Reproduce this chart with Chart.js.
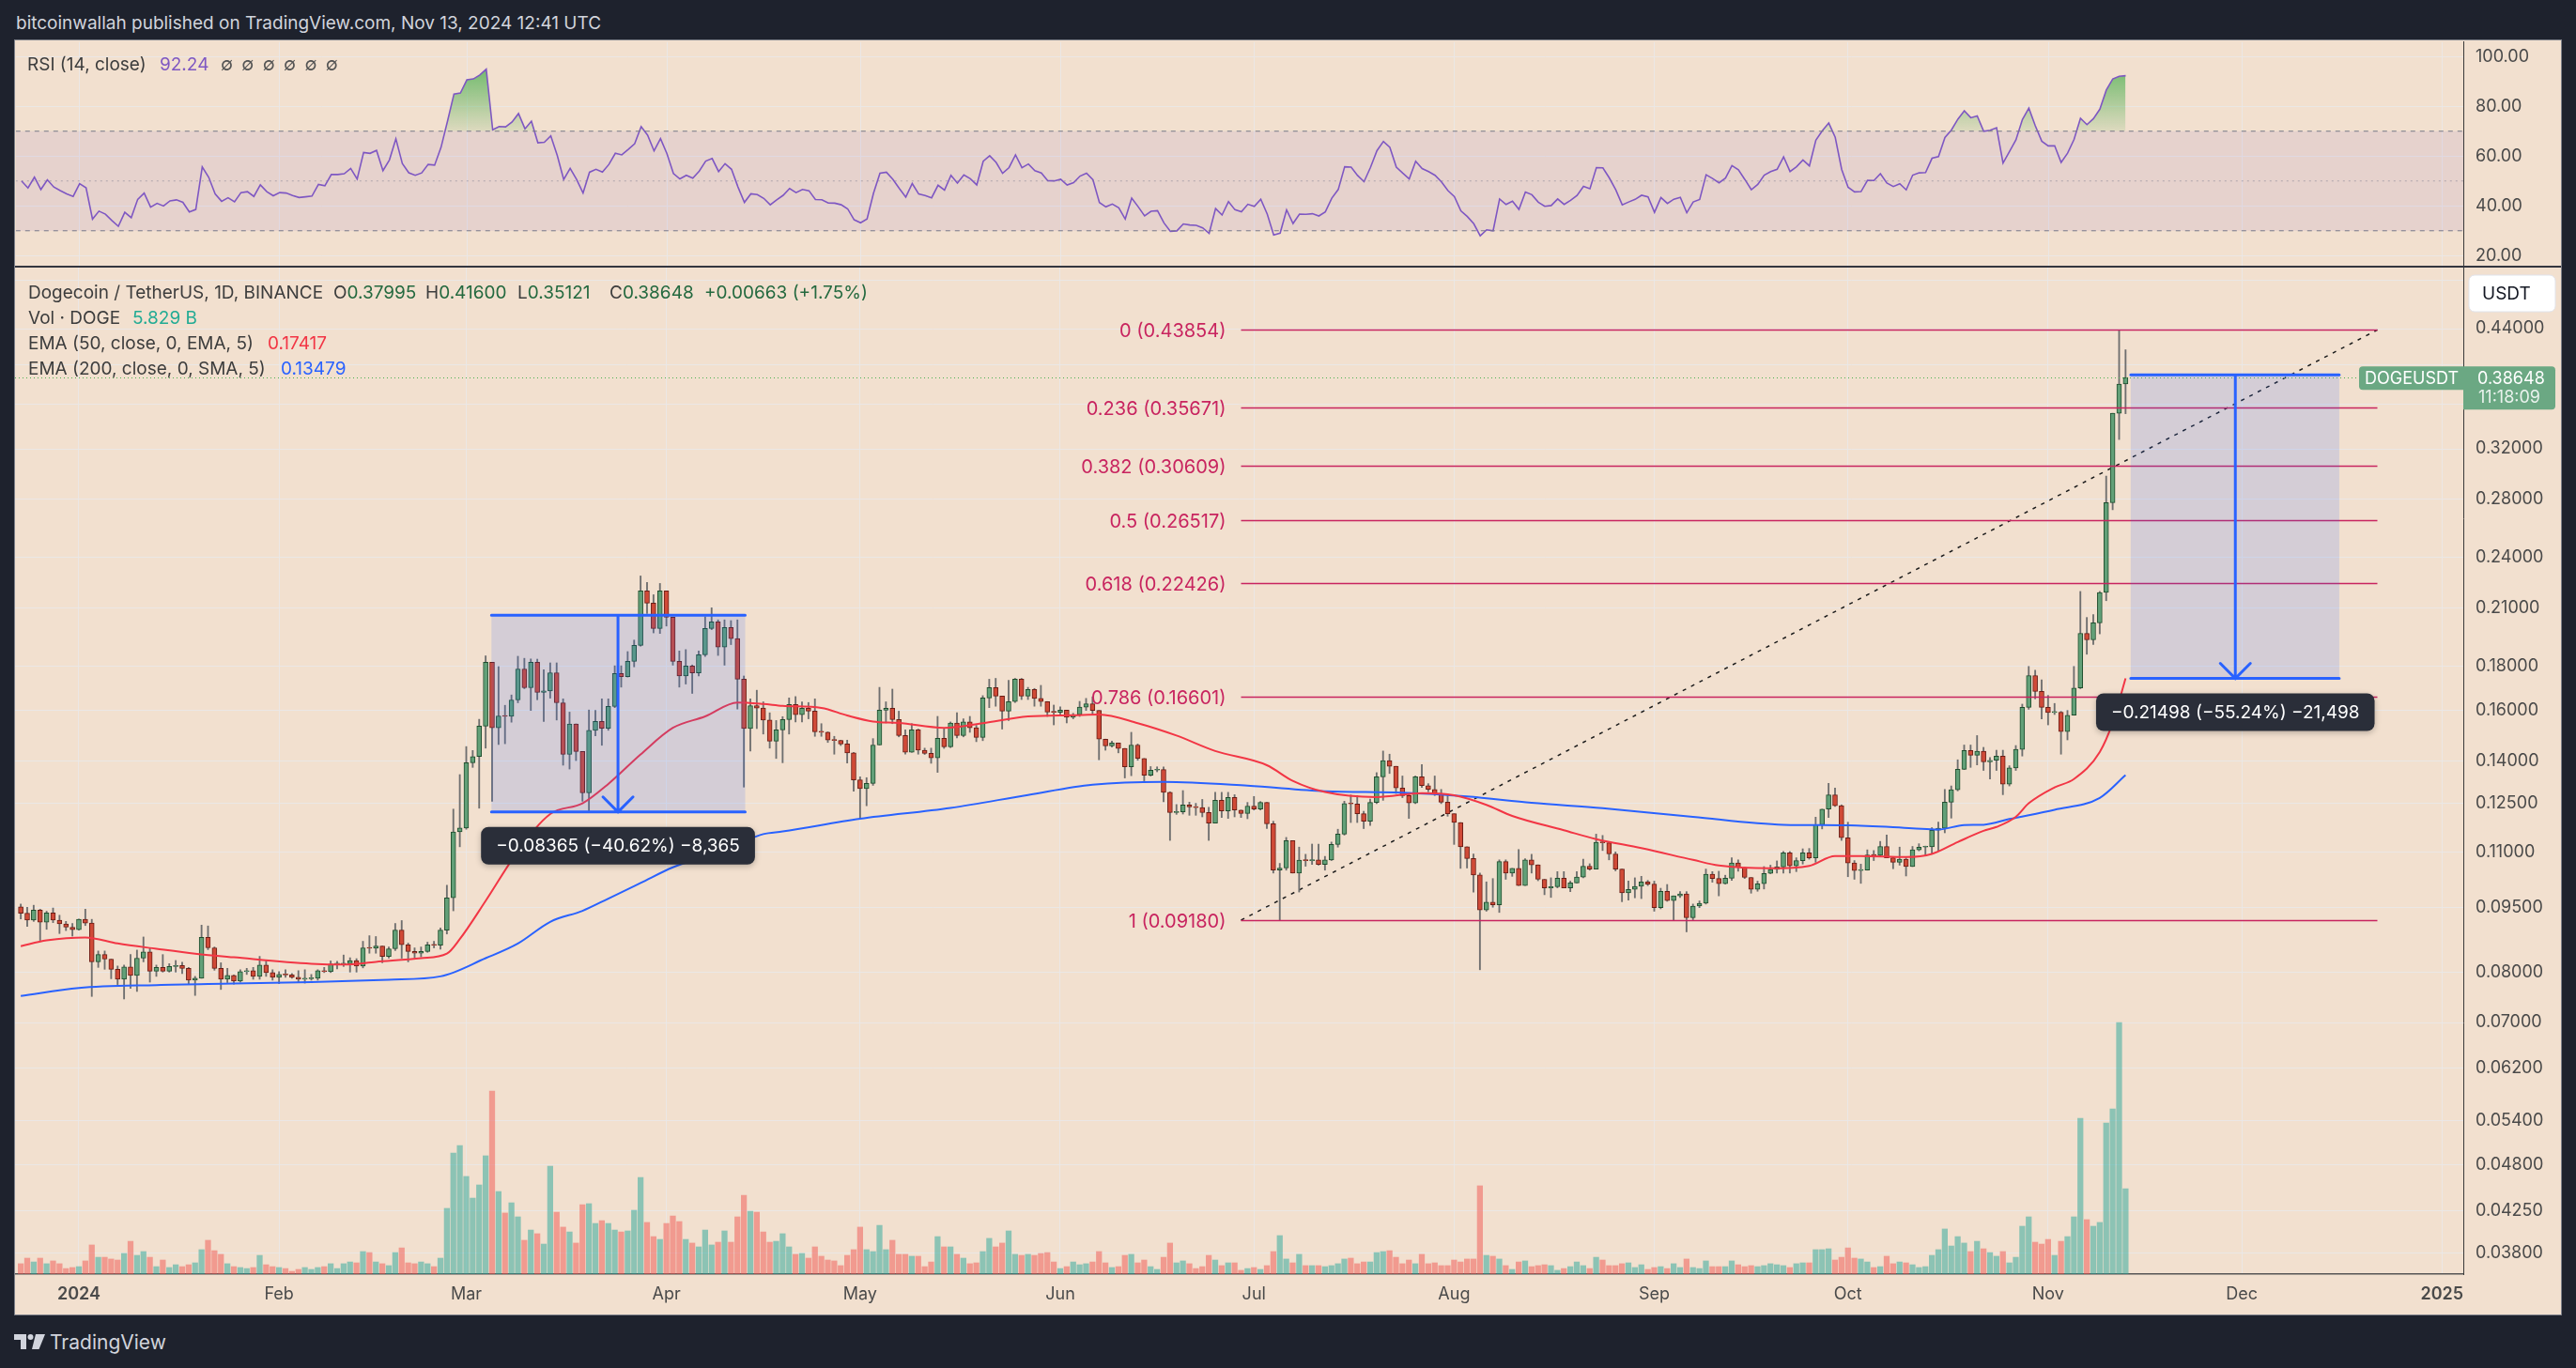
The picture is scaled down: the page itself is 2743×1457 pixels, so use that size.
<!DOCTYPE html>
<html>
<head>
<meta charset="utf-8">
<title>DOGEUSDT 1D</title>
<script src="https://cdn.jsdelivr.net/npm/chart.js@4.4.1/dist/chart.umd.min.js"></script>
<style>
  html, body { margin: 0; padding: 0; }
  body { width: 2743px; height: 1457px; background: #1e222d; position: relative; overflow: hidden; font-family: Inter, Roboto, sans-serif; }
  #frame { position: absolute; left: 16px; top: 43px; width: 2711px; height: 1357px; background: #f2e0cf; box-shadow: 0 0 0 1px #7d8089; }
  canvas { position: absolute; left: 16px; }
  #rsi { top: 44px; }
  #main { top: 284px; }
  #sep { position: absolute; left: 16px; top: 283px; width: 2711px; height: 2px; background: #34363f; }
  .t { position: absolute; line-height: 22px; white-space: nowrap; font-size: 19px; color: #3d3d3d; }
  .g { color: #24693f; }
  #head { color: #d1d4dc; font-size: 19px; }
  #brand { color: #d1d4dc; font-size: 21px; line-height: 24px; }
</style>
</head>
<body>
<div id="frame"></div>
<canvas id="rsi" width="2711" height="240"></canvas>
<canvas id="main" width="2711" height="1116"></canvas>
<div id="sep"></div>

<div class="t" id="head" style="left:17px;top:14px">bitcoinwallah published on TradingView.com, Nov 13, 2024 12:41 UTC</div>

<div class="t" style="left:29px;top:58px">RSI (14, close)</div>
<div class="t" style="left:170px;top:58px;color:#7e57c2">92.24</div>
<div class="t" style="left:235px;top:58px;color:#555;word-spacing:4px">∅ ∅ ∅ ∅ ∅ ∅</div>

<div class="t" style="left:30px;top:301px">Dogecoin / TetherUS, 1D, BINANCE</div>
<div class="t" style="left:355px;top:301px">O<span class="g">0.37995</span></div>
<div class="t" style="left:453px;top:301px">H<span class="g">0.41600</span></div>
<div class="t" style="left:551px;top:301px">L<span class="g">0.35121</span></div>
<div class="t" style="left:649px;top:301px">C<span class="g">0.38648</span></div>
<div class="t g" style="left:750px;top:301px">+0.00663 (+1.75%)</div>
<div class="t" style="left:30px;top:328px">Vol · DOGE</div>
<div class="t" style="left:141px;top:328px;color:#22ab94">5.829 B</div>
<div class="t" style="left:30px;top:355px">EMA (50, close, 0, EMA, 5)</div>
<div class="t" style="left:285px;top:355px;color:#f23645">0.17417</div>
<div class="t" style="left:30px;top:382px">EMA (200, close, 0, SMA, 5)</div>
<div class="t" style="left:299px;top:382px;color:#2962ff">0.13479</div>

<svg style="position:absolute;left:15px;top:1421px" width="34" height="16" viewBox="0 0 34 16">
  <path d="M0 0h13v16H7V6H0z" fill="#d1d4dc"/>
  <circle cx="17.5" cy="3" r="3" fill="#d1d4dc"/>
  <path d="M23 0h10l-6.5 16h-7.5z" fill="#d1d4dc"/>
</svg>
<div class="t" id="brand" style="left:53px;top:1418px">TradingView</div>

<script>
// ---- data (day index: 0 = 1 Jan 2024) ----
const firstDay = -9;
const firstOpen = 0.0951;

const closes = [
  0.0935, 0.0918, 0.0943, 0.0913, 0.0936, 0.0918, 0.0909, 0.0901, 0.0895, 0.0920,
  0.0911, 0.0822, 0.0838, 0.0828, 0.0806, 0.0785, 0.0811, 0.0793, 0.0830, 0.0844,
  0.0802, 0.0810, 0.0802, 0.0812, 0.0814, 0.0808, 0.0783, 0.0787, 0.0877, 0.0853,
  0.0808, 0.0785, 0.0793, 0.0781, 0.0801, 0.0803, 0.0791, 0.0815, 0.0799, 0.0789,
  0.0795, 0.0794, 0.0789, 0.0785, 0.0786, 0.0787, 0.0803, 0.0801, 0.0817, 0.0817,
  0.0818, 0.0825, 0.0813, 0.0853, 0.0852, 0.0857, 0.0834, 0.0851, 0.0894, 0.0860,
  0.0845, 0.0841, 0.0845, 0.0860, 0.0859, 0.0894, 0.0974, 0.1160, 0.1172, 0.1393,
  0.1416, 0.1535, 0.1818, 0.1528, 0.1577, 0.1575, 0.1645, 0.1786, 0.1699, 0.1818,
  0.1678, 0.1685, 0.1768, 0.1633, 0.1424, 0.1544, 0.1435, 0.1286, 0.1518, 0.1554,
  0.1526, 0.1617, 0.1764, 0.1750, 0.1822, 0.1901, 0.2196, 0.2126, 0.1988, 0.2196,
  0.2048, 0.1822, 0.1753, 0.1800, 0.1767, 0.1854, 0.1988, 0.2023, 0.1892, 0.1993,
  0.1936, 0.1738, 0.1525, 0.1620, 0.1610, 0.1560, 0.1475, 0.1520, 0.1562, 0.1625,
  0.1582, 0.1609, 0.1597, 0.1512, 0.1510, 0.1479, 0.1478, 0.1464, 0.1430, 0.1331,
  0.1301, 0.1319, 0.1460, 0.1601, 0.1609, 0.1562, 0.1497, 0.1432, 0.1520, 0.1440,
  0.1428, 0.1411, 0.1486, 0.1453, 0.1548, 0.1497, 0.1552, 0.1528, 0.1490, 0.1654,
  0.1700, 0.1662, 0.1597, 0.1638, 0.1738, 0.1662, 0.1691, 0.1652, 0.1638, 0.1593,
  0.1592, 0.1601, 0.1571, 0.1582, 0.1614, 0.1628, 0.1600, 0.1483, 0.1457, 0.1468,
  0.1447, 0.1378, 0.1460, 0.1409, 0.1348, 0.1366, 0.1368, 0.1288, 0.1221, 0.1223,
  0.1246, 0.1239, 0.1237, 0.1221, 0.1187, 0.1261, 0.1226, 0.1271, 0.1229, 0.1218,
  0.1242, 0.1232, 0.1254, 0.1185, 0.1048, 0.1054, 0.1133, 0.1040, 0.1076, 0.1075,
  0.1077, 0.1064, 0.1077, 0.1122, 0.1153, 0.1250, 0.1249, 0.1217, 0.1193, 0.1254,
  0.1342, 0.1401, 0.1380, 0.1303, 0.1277, 0.1252, 0.1342, 0.1311, 0.1298, 0.1283,
  0.1255, 0.1217, 0.1189, 0.1115, 0.1081, 0.1035, 0.0943, 0.0963, 0.0956, 0.1072,
  0.1040, 0.1053, 0.1006, 0.1077, 0.1063, 0.1023, 0.1000, 0.1003, 0.1026, 0.1000,
  0.1013, 0.1029, 0.1059, 0.1051, 0.1128, 0.1127, 0.1094, 0.1051, 0.0987, 0.0996,
  0.1004, 0.1016, 0.1010, 0.0949, 0.0991, 0.0967, 0.0979, 0.0984, 0.0924, 0.0953,
  0.0960, 0.1037, 0.1025, 0.1011, 0.1026, 0.1068, 0.1056, 0.1028, 0.0996, 0.1011,
  0.1039, 0.1050, 0.1057, 0.1097, 0.1060, 0.1075, 0.1097, 0.1083, 0.1182, 0.1232,
  0.1279, 0.1243, 0.1142, 0.1068, 0.1047, 0.1048, 0.1091, 0.1090, 0.1116, 0.1083,
  0.1070, 0.1079, 0.1058, 0.1106, 0.1114, 0.1115, 0.1165, 0.1171, 0.1255, 0.1297,
  0.1369, 0.1439, 0.1421, 0.1436, 0.1396, 0.1402, 0.1418, 0.1316, 0.1374, 0.1443,
  0.1613, 0.1755, 0.1683, 0.1613, 0.1591, 0.1592, 0.1513, 0.1580, 0.1698, 0.1963,
  0.1929, 0.2018, 0.2187, 0.2775, 0.3516, 0.37995, 0.38648
];

const highs = [
  0.0958, 0.0950, 0.0955, 0.0945, 0.0940, 0.0948, 0.0930, 0.0915, 0.0910, 0.0921,
  0.0945, 0.0920, 0.0846, 0.0846, 0.0828, 0.0813, 0.0815, 0.0838, 0.0848, 0.0878,
  0.0852, 0.0815, 0.0838, 0.0818, 0.0825, 0.0821, 0.0810, 0.0791, 0.0906, 0.0904,
  0.0855, 0.0820, 0.0808, 0.0794, 0.0805, 0.0808, 0.0810, 0.0834, 0.0824, 0.0805,
  0.0801, 0.0805, 0.0797, 0.0803, 0.0805, 0.0795, 0.0805, 0.0810, 0.0824, 0.0823,
  0.0837, 0.0831, 0.0829, 0.0868, 0.0881, 0.0879, 0.0857, 0.0855, 0.0910, 0.0917,
  0.0864, 0.0853, 0.0855, 0.0866, 0.0868, 0.0899, 0.1007, 0.1232, 0.1350, 0.1454,
  0.1439, 0.1563, 0.1849, 0.1818, 0.1797, 0.1622, 0.1667, 0.1847, 0.1837, 0.1834,
  0.1833, 0.1782, 0.1815, 0.1815, 0.1650, 0.1593, 0.1544, 0.1435, 0.1602, 0.1600,
  0.1650, 0.1650, 0.1801, 0.1801, 0.1870, 0.1928, 0.2285, 0.2246, 0.2174, 0.2240,
  0.2196, 0.2048, 0.1873, 0.1880, 0.1805, 0.1873, 0.2051, 0.2100, 0.2034, 0.2034,
  0.2030, 0.2034, 0.1753, 0.1650, 0.1688, 0.1637, 0.1590, 0.1558, 0.1574, 0.1654,
  0.1660, 0.1637, 0.1634, 0.1650, 0.1545, 0.1512, 0.1494, 0.1479, 0.1479, 0.1432,
  0.1342, 0.1339, 0.1485, 0.1701, 0.1637, 0.1693, 0.1597, 0.1520, 0.1545, 0.1523,
  0.1448, 0.1448, 0.1575, 0.1527, 0.1552, 0.1590, 0.1565, 0.1575, 0.1538, 0.1664,
  0.1738, 0.1742, 0.1662, 0.1733, 0.1742, 0.1742, 0.1701, 0.1696, 0.1710, 0.1638,
  0.1623, 0.1615, 0.1601, 0.1588, 0.1639, 0.1652, 0.1659, 0.1600, 0.1483, 0.1475,
  0.1468, 0.1447, 0.1510, 0.1464, 0.1409, 0.1379, 0.1378, 0.1378, 0.1290, 0.1247,
  0.1294, 0.1255, 0.1251, 0.1264, 0.1238, 0.1288, 0.1288, 0.1288, 0.1280, 0.1229,
  0.1254, 0.1274, 0.1257, 0.1254, 0.1193, 0.1067, 0.1143, 0.1133, 0.1114, 0.1093,
  0.1123, 0.1123, 0.1087, 0.1129, 0.1168, 0.1258, 0.1279, 0.1277, 0.1225, 0.1265,
  0.1357, 0.1437, 0.1425, 0.1380, 0.1345, 0.1284, 0.1345, 0.1386, 0.1318, 0.1345,
  0.1298, 0.1279, 0.1217, 0.1189, 0.1115, 0.1094, 0.1040, 0.1016, 0.1025, 0.1077,
  0.1077, 0.1053, 0.1107, 0.1080, 0.1093, 0.1063, 0.1023, 0.1027, 0.1044, 0.1044,
  0.1018, 0.1044, 0.1079, 0.1066, 0.1153, 0.1149, 0.1127, 0.1100, 0.1051, 0.1018,
  0.1027, 0.1031, 0.1020, 0.1018, 0.0999, 0.1009, 0.0979, 0.0990, 0.0990, 0.0958,
  0.0966, 0.1051, 0.1044, 0.1045, 0.1034, 0.1083, 0.1077, 0.1056, 0.1028, 0.1018,
  0.1058, 0.1062, 0.1074, 0.1101, 0.1101, 0.1083, 0.1109, 0.1110, 0.1206, 0.1232,
  0.1319, 0.1303, 0.1246, 0.1190, 0.1075, 0.1065, 0.1106, 0.1104, 0.1131, 0.1150,
  0.1085, 0.1114, 0.1083, 0.1116, 0.1124, 0.1117, 0.1173, 0.1190, 0.1298, 0.1310,
  0.1404, 0.1460, 0.1460, 0.1497, 0.1451, 0.1412, 0.1440, 0.1440, 0.1382, 0.1458,
  0.1627, 0.1798, 0.1780, 0.1735, 0.1665, 0.1630, 0.1596, 0.1600, 0.1798, 0.2193,
  0.2047, 0.2063, 0.2193, 0.2977, 0.3516, 0.43854, 0.41600
];

const lows = [
  0.0921, 0.0903, 0.0915, 0.0870, 0.0896, 0.0912, 0.0886, 0.0893, 0.0880, 0.0894,
  0.0905, 0.0750, 0.0810, 0.0806, 0.0786, 0.0774, 0.0745, 0.0766, 0.0760, 0.0822,
  0.0779, 0.0791, 0.0800, 0.0800, 0.0800, 0.0797, 0.0774, 0.0752, 0.0787, 0.0849,
  0.0804, 0.0764, 0.0778, 0.0775, 0.0779, 0.0795, 0.0785, 0.0785, 0.0791, 0.0783,
  0.0776, 0.0789, 0.0787, 0.0779, 0.0777, 0.0783, 0.0783, 0.0799, 0.0799, 0.0807,
  0.0812, 0.0800, 0.0800, 0.0809, 0.0841, 0.0841, 0.0820, 0.0830, 0.0847, 0.0830,
  0.0822, 0.0831, 0.0833, 0.0843, 0.0853, 0.0850, 0.0885, 0.0941, 0.1115, 0.1168,
  0.1376, 0.1235, 0.1448, 0.1258, 0.1462, 0.1465, 0.1551, 0.1633, 0.1695, 0.1600,
  0.1646, 0.1554, 0.1653, 0.1560, 0.1384, 0.1370, 0.1401, 0.1258, 0.1223, 0.1496,
  0.1459, 0.1518, 0.1612, 0.1702, 0.1748, 0.1796, 0.1897, 0.2068, 0.1965, 0.1962,
  0.2001, 0.1804, 0.1702, 0.1716, 0.1674, 0.1753, 0.1846, 0.1982, 0.1851, 0.1804,
  0.1905, 0.1606, 0.1306, 0.1437, 0.1525, 0.1503, 0.1448, 0.1409, 0.1393, 0.1503,
  0.1552, 0.1552, 0.1565, 0.1494, 0.1494, 0.1470, 0.1425, 0.1458, 0.1392, 0.1292,
  0.1202, 0.1243, 0.1312, 0.1460, 0.1548, 0.1545, 0.1492, 0.1425, 0.1432, 0.1425,
  0.1424, 0.1391, 0.1358, 0.1447, 0.1450, 0.1488, 0.1492, 0.1510, 0.1473, 0.1477,
  0.1612, 0.1618, 0.1523, 0.1558, 0.1634, 0.1647, 0.1647, 0.1618, 0.1618, 0.1575,
  0.1540, 0.1582, 0.1548, 0.1565, 0.1575, 0.1600, 0.1582, 0.1404, 0.1440, 0.1452,
  0.1430, 0.1338, 0.1346, 0.1402, 0.1328, 0.1345, 0.1360, 0.1256, 0.1134, 0.1215,
  0.1216, 0.1212, 0.1212, 0.1207, 0.1134, 0.1187, 0.1205, 0.1202, 0.1207, 0.1205,
  0.1201, 0.1229, 0.1229, 0.1170, 0.1040, 0.0918, 0.1048, 0.1040, 0.0989, 0.1059,
  0.1064, 0.1062, 0.1048, 0.1075, 0.1114, 0.1150, 0.1189, 0.1189, 0.1170, 0.1180,
  0.1250, 0.1261, 0.1354, 0.1284, 0.1270, 0.1202, 0.1250, 0.1305, 0.1290, 0.1277,
  0.1250, 0.1209, 0.1122, 0.1053, 0.1054, 0.0989, 0.0805, 0.0940, 0.0950, 0.0937,
  0.1023, 0.1031, 0.1006, 0.1006, 0.1040, 0.1019, 0.0982, 0.0975, 0.1000, 0.1000,
  0.0990, 0.1013, 0.1027, 0.1048, 0.1051, 0.1104, 0.1077, 0.1046, 0.0964, 0.0968,
  0.0974, 0.0972, 0.1006, 0.0940, 0.0946, 0.0965, 0.0918, 0.0975, 0.0890, 0.0919,
  0.0949, 0.0958, 0.1015, 0.0979, 0.1010, 0.1020, 0.1045, 0.1025, 0.0986, 0.0991,
  0.0997, 0.1038, 0.1040, 0.1040, 0.1040, 0.1044, 0.1065, 0.1079, 0.1070, 0.1169,
  0.1205, 0.1241, 0.1134, 0.1030, 0.1023, 0.1012, 0.1048, 0.1075, 0.1088, 0.1083,
  0.1052, 0.1062, 0.1032, 0.1058, 0.1103, 0.1089, 0.1094, 0.1103, 0.1157, 0.1203,
  0.1293, 0.1368, 0.1376, 0.1385, 0.1365, 0.1334, 0.1365, 0.1280, 0.1310, 0.1365,
  0.1418, 0.1605, 0.1650, 0.1565, 0.1540, 0.1583, 0.1425, 0.1480, 0.1580, 0.1695,
  0.1857, 0.1905, 0.1960, 0.2140, 0.2723, 0.3280, 0.35121
];

// volume, billions of DOGE
const volumes = [
  0.71, 1.09, 0.83, 1.09, 0.71, 0.90, 0.71, 0.38, 0.45, 0.51,
  0.90, 1.99, 1.15, 1.15, 1.03, 0.96, 1.41, 2.24, 1.28, 1.54,
  1.15, 0.51, 0.96, 0.45, 0.64, 0.51, 0.64, 0.77, 1.67, 2.31,
  1.60, 1.35, 0.71, 0.51, 0.45, 0.38, 0.45, 1.28, 0.64, 0.51,
  0.45, 0.38, 0.19, 0.32, 0.45, 0.32, 0.45, 0.51, 0.71, 0.38,
  0.71, 0.83, 0.77, 1.54, 1.47, 0.83, 0.71, 0.58, 1.47, 1.79,
  0.77, 0.71, 0.83, 0.71, 0.51, 1.09, 4.49, 8.27, 8.78, 6.67,
  5.19, 6.09, 8.08, 12.5, 5.64, 4.17, 4.87, 3.91, 2.31, 3.01,
  2.76, 2.05, 7.37, 4.23, 3.21, 2.88, 2.12, 4.74, 4.81, 3.46,
  3.65, 3.46, 3.01, 2.88, 2.95, 4.36, 6.60, 3.53, 2.56, 2.37,
  3.46, 3.97, 3.59, 2.37, 2.12, 1.86, 3.01, 1.99, 2.18, 2.95,
  2.18, 3.91, 5.38, 4.29, 4.23, 2.88, 2.18, 2.24, 2.76, 1.86,
  1.35, 1.41, 1.09, 1.86, 1.22, 0.96, 0.90, 0.58, 1.28, 1.67,
  3.21, 1.67, 1.54, 3.33, 1.67, 2.31, 1.35, 1.35, 1.22, 1.22,
  0.51, 0.83, 2.56, 1.86, 1.86, 1.35, 1.09, 0.71, 0.77, 1.54,
  2.44, 1.86, 2.12, 2.95, 1.35, 1.28, 1.35, 1.28, 1.41, 1.47,
  0.83, 0.38, 0.51, 0.83, 0.64, 0.71, 0.83, 1.54, 0.77, 0.45,
  0.51, 1.28, 1.35, 0.77, 0.96, 0.51, 0.32, 1.15, 2.12, 0.77,
  0.90, 0.71, 0.38, 0.51, 1.28, 0.96, 0.58, 0.77, 0.77, 0.26,
  0.38, 0.45, 0.32, 0.58, 1.54, 2.63, 1.03, 0.77, 1.35, 0.58,
  0.58, 0.58, 0.51, 0.58, 0.71, 1.03, 1.09, 0.71, 0.83, 0.83,
  1.47, 1.54, 1.60, 1.15, 0.71, 0.96, 0.71, 1.35, 0.71, 0.77,
  0.58, 0.58, 0.96, 0.83, 1.03, 1.03, 6.03, 1.28, 1.22, 1.03,
  0.58, 0.32, 0.83, 0.90, 0.51, 0.58, 0.64, 0.58, 0.26, 0.38,
  0.51, 0.83, 0.58, 0.38, 1.15, 0.96, 0.58, 0.58, 0.71, 0.77,
  0.45, 0.64, 0.32, 0.45, 0.51, 0.38, 0.71, 0.45, 1.03, 0.45,
  0.38, 0.90, 0.51, 0.51, 0.51, 0.90, 0.64, 0.51, 0.58, 0.51,
  0.58, 0.71, 0.64, 0.58, 0.45, 0.71, 0.77, 0.77, 1.67, 1.67,
  1.73, 0.96, 1.15, 1.79, 1.09, 1.03, 0.83, 0.45, 0.51, 1.22,
  0.71, 0.83, 0.77, 0.64, 0.45, 0.51, 1.28, 1.67, 3.08, 1.92,
  2.56, 2.12, 1.54, 2.24, 1.73, 1.47, 1.22, 1.54, 0.77, 1.15,
  3.27, 3.91, 2.18, 2.05, 2.37, 1.28, 2.24, 2.56, 3.91, 10.64,
  3.72, 3.27, 3.53, 10.32, 11.28, 17.18, 5.83
];

const ema50Days = [-9, -5, 1, 6, 12, 18, 24, 36, 41, 46, 53, 57, 59, 63, 68, 73, 78, 82, 87, 92,
  97, 102, 106, 109, 115, 119, 123, 127, 134, 140, 147, 154, 158, 164, 170, 176, 184, 188, 193, 201,
  208, 213, 218, 222, 230, 235, 242, 250, 254, 262, 268, 272, 276, 283, 287, 291, 295, 297, 300, 302,
  306, 309, 313, 315, 317];
const ema50 = [0.0857, 0.0870, 0.0877, 0.0863, 0.0851, 0.0840, 0.0832, 0.0818, 0.0816, 0.0822,
  0.0830, 0.0840, 0.0873, 0.0966, 0.1102, 0.1216, 0.1251, 0.1317, 0.1424, 0.1528,
  0.1575, 0.1634, 0.1628, 0.1620, 0.1611, 0.1579, 0.1554, 0.1548, 0.1528, 0.1547,
  0.1575, 0.1580, 0.1583, 0.1547, 0.1497, 0.1437, 0.1384, 0.1328, 0.1289, 0.1272,
  0.1285, 0.1278, 0.1246, 0.1210, 0.1165, 0.1138, 0.1111, 0.1077, 0.1061, 0.1053,
  0.1060, 0.1088, 0.1088, 0.1085, 0.1094, 0.1129, 0.1163, 0.1175, 0.1207, 0.1251,
  0.1305, 0.1334, 0.1433, 0.1549, 0.1742];

const ema200Days = [-9, 0, 12, 24, 36, 48, 56, 63, 68, 73, 78, 82, 87, 92, 97, 102, 106, 109, 121, 135,
  147, 157, 168, 181, 193, 205, 215, 225, 236, 250, 264, 274, 284, 288, 292, 295, 299, 306, 313, 317];
const ema200 = [0.0751, 0.0767, 0.0773, 0.0776, 0.0779, 0.0784, 0.0791, 0.0830, 0.0863, 0.0914,
  0.0941, 0.0972, 0.1013, 0.1056, 0.1087, 0.1123, 0.1153, 0.1161, 0.1201, 0.1236,
  0.1279, 0.1314, 0.1324, 0.1311, 0.1292, 0.1287, 0.1274, 0.1253, 0.1235, 0.1207,
  0.1182, 0.1180, 0.1171, 0.1167, 0.1181, 0.1182, 0.1200, 0.1230, 0.1269, 0.1348];

const monthTicks = [0, 31, 60, 91, 121, 152, 182, 213, 244, 274, 305, 335, 366];
const monthLabels = ['2024', 'Feb', 'Mar', 'Apr', 'May', 'Jun', 'Jul', 'Aug', 'Sep', 'Oct', 'Nov', 'Dec', '2025'];
const priceTicks = [0.5, 0.44, 0.40, 0.36, 0.32, 0.28, 0.24, 0.21, 0.18, 0.16, 0.14, 0.125, 0.11, 0.095,
  0.08, 0.07, 0.062, 0.054, 0.048, 0.0425, 0.038];
const hiddenPriceLabels = [0.5, 0.40, 0.36];
const rsiTicks = [20, 40, 60, 80, 100];

const fibRatios = ['0', '0.236', '0.382', '0.5', '0.618', '0.786', '1'];
const fibPrices = [0.43854, 0.35671, 0.30609, 0.26517, 0.22426, 0.16601, 0.09180];
const fibAnchorDays = [180, 356];

const measureDays = [[63.9, 103.2, 83.5], [317.8, 350.1, 334]];
const measurePrices = [[0.20593, 0.12228], [0.38917, 0.17419]];
const measureTexts = ['\u22120.08365 (\u221240.62%) \u22128,365', '\u22120.21498 (\u221255.24%) \u221221,498'];
const lastPrice = 0.38648;

// ---- derived ----
const days = closes.map((_, i) => firstDay + i);
const opens = closes.map((c, i) => i ? closes[i - 1] : firstOpen);
const isUp = i => closes[i] >= opens[i];

function rsiOf(src, n) {
  const ch = src.slice(1).map((v, i) => v - src[i]);
  const seed = ch.slice(0, n).reduce((a, b) => a + Math.abs(b), 0) / n / 2;
  let ag = seed, al = seed;
  return src.map((v, i) => {
    if (i > 0) {
      const c = ch[i - 1];
      ag = (ag * (n - 1) + Math.max(c, 0)) / n;
      al = (al * (n - 1) + Math.max(-c, 0)) / n;
    }
    return 100 - 100 / (1 + ag / al);
  });
}
const rsi = rsiOf(closes, 14);

// ---- look ----
const X_MIN = -9.89, X_MAX = 369.31;
const P_MIN = 0.035941, P_MAX = 0.51851;
const gridColor = 'rgba(232,232,234,0.8)';
const axisText = '#4a4a4a';
const fibColor = '#c8245f';
const tagGreen = '#6ba883';

Chart.defaults.font.family = 'Inter, Roboto, sans-serif';
Chart.defaults.animation = false;

// keep the plot edges exactly where the axes were sized, no label overhang padding
const fitX = h => s => { s.height = h; s.paddingLeft = 0; s.paddingRight = 0; };
const fitY = w => s => { s.width = w; s.paddingTop = 0; s.paddingBottom = 0; };

const drawings = {
  id: 'drawings',
  afterDatasetsDraw(chart) {
    const { ctx, chartArea: a, scales: { x, y } } = chart;
    ctx.save();
    ctx.beginPath();
    ctx.rect(a.left, a.top, a.right - a.left, a.bottom - a.top);
    ctx.clip();

    // last price dotted line
    const ly = Math.round(y.getPixelForValue(lastPrice)) + 0.5;
    ctx.strokeStyle = '#4caf50';
    ctx.lineWidth = 1;
    ctx.setLineDash([1, 3]);
    ctx.beginPath(); ctx.moveTo(a.left, ly); ctx.lineTo(a.right, ly); ctx.stroke();
    ctx.setLineDash([]);

    // fib retracement
    const fx0 = x.getPixelForValue(fibAnchorDays[0]);
    const fx1 = x.getPixelForValue(fibAnchorDays[1]);
    ctx.font = '20px Inter';
    ctx.textAlign = 'right';
    ctx.textBaseline = 'middle';
    fibPrices.forEach((p, i) => {
      const py = Math.round(y.getPixelForValue(p)) + 0.5;
      ctx.strokeStyle = fibColor;
      ctx.lineWidth = 1.5;
      ctx.beginPath(); ctx.moveTo(fx0, py); ctx.lineTo(fx1, py); ctx.stroke();
      ctx.fillStyle = fibColor;
      ctx.fillText(fibRatios[i] + ' (' + p.toFixed(5) + ')', fx0 - 16, py + 1);
    });

    // price range measurements
    measureDays.forEach(([d0, d1, da], i) => {
      const [pt, pb] = measurePrices[i];
      const x0 = x.getPixelForValue(d0), x1 = x.getPixelForValue(d1), xa = x.getPixelForValue(da);
      const yt = y.getPixelForValue(pt), yb = y.getPixelForValue(pb);
      ctx.fillStyle = 'rgba(41,98,255,0.15)';
      ctx.fillRect(x0, yt, x1 - x0, yb - yt);
      ctx.strokeStyle = '#2962ff';
      ctx.lineWidth = 3;
      ctx.lineCap = 'round';
      ctx.beginPath();
      ctx.moveTo(x0, yt); ctx.lineTo(x1, yt);
      ctx.moveTo(x0, yb); ctx.lineTo(x1, yb);
      ctx.moveTo(xa, yt); ctx.lineTo(xa, yb);
      ctx.moveTo(xa - 16, yb - 16); ctx.lineTo(xa, yb); ctx.lineTo(xa + 16, yb - 16);
      ctx.stroke();

      ctx.font = '19px Inter';
      const tw = ctx.measureText(measureTexts[i]).width;
      const w = tw + 32, h = 40, lx = xa - w / 2, lt = yb + 16;
      ctx.shadowColor = 'rgba(0,0,0,0.25)';
      ctx.shadowBlur = 6;
      ctx.shadowOffsetY = 2;
      ctx.fillStyle = '#2a2e39';
      ctx.beginPath(); ctx.roundRect(lx, lt, w, h, 8); ctx.fill();
      ctx.shadowColor = 'transparent';
      ctx.fillStyle = '#ffffff';
      ctx.textAlign = 'center';
      ctx.fillText(measureTexts[i], xa, lt + h / 2 + 1);
    });
    ctx.restore();
  },
  afterDraw(chart) {
    const { ctx, chartArea: a, scales: { y } } = chart;
    const ax = a.right;
    const py = y.getPixelForValue(lastPrice);
    ctx.save();
    ctx.textBaseline = 'middle';
    // symbol tag
    ctx.fillStyle = tagGreen;
    ctx.beginPath(); ctx.roundRect(ax - 111, py - 12, 111, 25, [4, 0, 0, 4]); ctx.fill();
    ctx.fillStyle = '#ffffff';
    ctx.font = '18px Inter';
    ctx.textAlign = 'center';
    ctx.fillText('DOGEUSDT', ax - 55, py + 1);
    // price / countdown box
    ctx.fillStyle = tagGreen;
    ctx.beginPath(); ctx.roundRect(ax, py - 12, 98, 46, [0, 4, 4, 0]); ctx.fill();
    ctx.fillStyle = '#ffffff';
    ctx.textAlign = 'left';
    ctx.fillText(lastPrice.toFixed(5), ax + 15, py + 1);
    ctx.fillStyle = 'rgba(255,255,255,0.85)';
    ctx.fillText('11:18:09', ax + 16, py + 21);
    // currency button
    ctx.fillStyle = '#ffffff';
    ctx.strokeStyle = '#e0e3eb';
    ctx.lineWidth = 1;
    ctx.beginPath(); ctx.roundRect(ax + 6, 9, 92, 39, 6); ctx.fill(); ctx.stroke();
    ctx.fillStyle = '#131722';
    ctx.font = '19px Inter';
    ctx.fillText('USDT', ax + 20, 29);
    ctx.restore();
  }
};

new Chart(document.getElementById('main'), {
  type: 'bar',
  data: {
    datasets: [
      {
        type: 'bar', label: 'Vol', yAxisID: 'yv', order: 10, grouped: false, barThickness: 5.6,
        data: days.map((d, i) => ({ x: d, y: volumes[i] })),
        backgroundColor: c => isUp(c.dataIndex) ? 'rgba(38,166,154,0.5)' : 'rgba(239,83,80,0.5)'
      },
      {
        type: 'line', label: 'Fib trend', order: 9, pointRadius: 0,
        data: [{ x: fibAnchorDays[0], y: fibPrices[6] }, { x: fibAnchorDays[1], y: fibPrices[0] }],
        borderColor: '#1c1c1c', borderWidth: 1.5, borderDash: [4, 6]
      },
      {
        type: 'bar', label: 'Wick', order: 4, grouped: false, barThickness: 1.2,
        data: days.map((d, i) => ({ x: d, y: [lows[i], highs[i]] })),
        backgroundColor: '#6f6f6f'
      },
      {
        type: 'bar', label: 'Body', order: 3, grouped: false, barThickness: 5, minBarLength: 1,
        data: days.map((d, i) => ({ x: d, y: [opens[i], closes[i]] })),
        backgroundColor: c => isUp(c.dataIndex) ? '#62a078' : '#d04a37',
        borderColor: c => isUp(c.dataIndex) ? '#1f4d2d' : '#6b1d15',
        borderWidth: 1, borderSkipped: false
      },
      {
        type: 'line', label: 'EMA 200', order: 2, pointRadius: 0, cubicInterpolationMode: 'monotone',
        data: ema200Days.map((d, i) => ({ x: d, y: ema200[i] })),
        borderColor: '#2962ff', borderWidth: 2
      },
      {
        type: 'line', label: 'EMA 50', order: 1, pointRadius: 0, cubicInterpolationMode: 'monotone',
        data: ema50Days.map((d, i) => ({ x: d, y: ema50[i] })),
        borderColor: '#f23645', borderWidth: 2
      }
    ]
  },
  options: {
    responsive: false,
    animation: false,
    layout: { padding: 0 },
    plugins: { legend: { display: false }, tooltip: { enabled: false } },
    scales: {
      x: {
        type: 'linear', min: X_MIN, max: X_MAX, bounds: 'data', offset: false,
        afterBuildTicks: s => { s.ticks = monthTicks.map(v => ({ value: v })); },
        afterFit: fitX(43),
        ticks: {
          callback: (v, i) => monthLabels[i], autoSkip: false, maxRotation: 0, padding: 11, color: axisText,
          font: c => ({ size: 18, weight: (c.index === 0 || c.index === 12) ? '600' : '400' })
        },
        grid: { color: gridColor, drawTicks: false, offset: false },
        border: { display: true, color: '#555555', width: 1.5 }
      },
      y: {
        type: 'logarithmic', position: 'right', min: P_MIN, max: P_MAX, bounds: 'data',
        afterBuildTicks: s => { s.ticks = priceTicks.map(v => ({ value: v })); },
        afterFit: fitY(104),
        ticks: {
          callback: v => hiddenPriceLabels.includes(v) ? '' : v.toFixed(5),
          autoSkip: false, padding: 13, color: axisText, font: { size: 18 }
        },
        grid: { color: gridColor, drawTicks: false },
        border: { display: true, color: '#3a3a3a', width: 1 }
      },
      yv: { type: 'linear', display: false, min: 0, max: 68.8 }
    }
  },
  plugins: [drawings]
});

const rsiChart = new Chart(document.getElementById('rsi'), {
  type: 'line',
  data: {
    datasets: [
      {
        data: [{ x: X_MIN, y: 70 }, { x: X_MAX, y: 70 }], pointRadius: 0,
        borderColor: '#787b86', borderWidth: 1, borderDash: [5, 5],
        fill: { target: { value: 30 } }, backgroundColor: 'rgba(126,87,194,0.1)'
      },
      {
        data: [{ x: X_MIN, y: 50 }, { x: X_MAX, y: 50 }], pointRadius: 0,
        borderColor: 'rgba(120,123,134,0.5)', borderWidth: 1, borderDash: [2, 4]
      },
      {
        data: [{ x: X_MIN, y: 30 }, { x: X_MAX, y: 30 }], pointRadius: 0,
        borderColor: '#787b86', borderWidth: 1, borderDash: [5, 5]
      },
      {
        data: days.map((d, i) => ({ x: d, y: rsi[i] })), pointRadius: 0,
        borderColor: '#7e57c2', borderWidth: 1.6,
        fill: { target: { value: 70 }, above: 'rgba(76,175,80,0.5)', below: 'rgba(0,0,0,0)' }
      }
    ]
  },
  options: {
    responsive: false,
    animation: false,
    layout: { padding: 0 },
    plugins: { legend: { display: false }, tooltip: { enabled: false } },
    scales: {
      x: {
        type: 'linear', min: X_MIN, max: X_MAX, bounds: 'data',
        afterBuildTicks: s => { s.ticks = monthTicks.map(v => ({ value: v })); },
        afterFit: fitX(0),
        ticks: { display: false },
        grid: { color: gridColor, drawTicks: false },
        border: { display: false }
      },
      y: {
        position: 'right', min: 15.88, max: 105.81, bounds: 'data',
        afterBuildTicks: s => { s.ticks = rsiTicks.map(v => ({ value: v })); },
        afterFit: fitY(104),
        ticks: { callback: v => v.toFixed(2), autoSkip: false, padding: 13, color: axisText, font: { size: 18 } },
        grid: { color: gridColor, drawTicks: false },
        border: { display: true, color: '#3a3a3a', width: 1 }
      }
    }
  }
});

// overbought fill fades from the top of the pane down to the 70 line
const ry = rsiChart.scales.y;
const obFill = rsiChart.ctx.createLinearGradient(0, ry.getPixelForValue(100), 0, ry.getPixelForValue(70));
obFill.addColorStop(0, 'rgba(76,175,80,0.9)');
obFill.addColorStop(1, 'rgba(76,175,80,0.12)');
rsiChart.data.datasets[3].fill.above = obFill;
rsiChart.update('none');
</script>
</body>
</html>
